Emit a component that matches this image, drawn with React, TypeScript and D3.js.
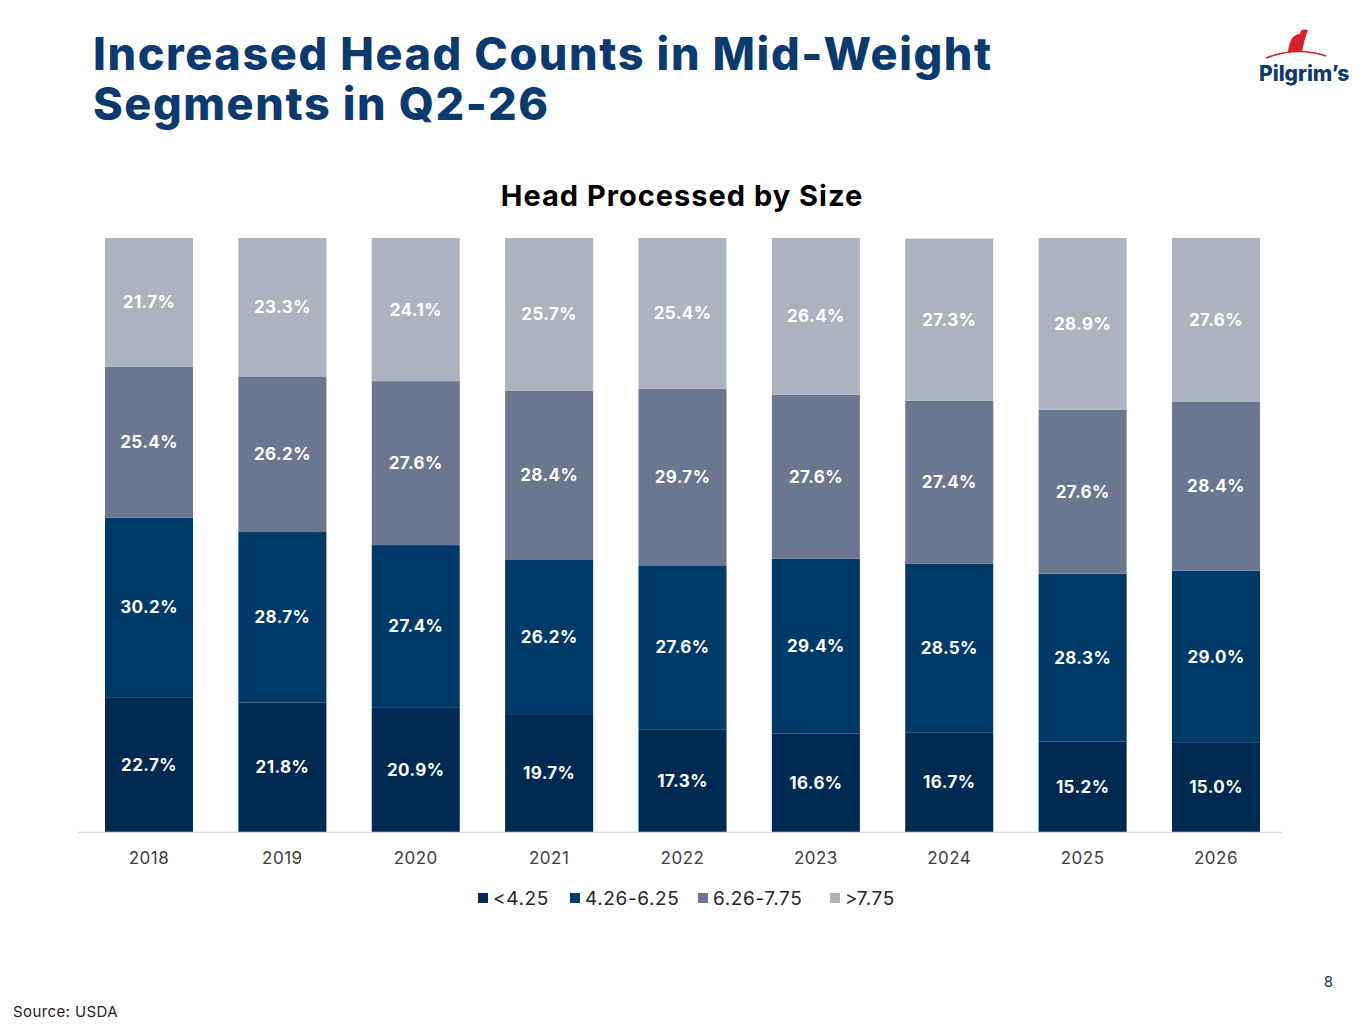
import React, { useRef, useEffect } from 'react'
import * as d3 from 'd3'

const years = ['2018', '2019', '2020', '2021', '2022', '2023', '2024', '2025', '2026']
const seriesNames = ['<4.25', '4.26-6.25', '6.26-7.75', '>7.75']
const under425 = [22.7, 21.8, 20.9, 19.7, 17.3, 16.6, 16.7, 15.2, 15.0]
const mid426 = [30.2, 28.7, 27.4, 26.2, 27.6, 29.4, 28.5, 28.3, 29.0]
const mid626 = [25.4, 26.2, 27.6, 28.4, 29.7, 27.6, 27.4, 27.6, 28.4]
const over775 = [21.7, 23.3, 24.1, 25.7, 25.4, 26.4, 27.3, 28.9, 27.6]
const colors = ['#002a52', '#003a69', '#6b7690', '#adb2bf']

const FONT = 'Inter, "Open Sans", sans-serif'

export default function App() {
  const svgRef = useRef<SVGSVGElement>(null)

  useEffect(() => {
    if (!svgRef.current) return
    const svg = d3.select(svgRef.current)
    svg.selectAll('*').remove()

    svg.append('rect').attr('width', 1365).attr('height', 1024).attr('fill', '#fff')

    // Title
    const title = svg.append('text').attr('font-family', FONT).attr('font-weight', 800)
      .attr('font-size', 45).attr('letter-spacing', 1.6).attr('fill', '#0b3a6e')
    title.append('tspan').attr('x', 93).attr('y', 70).text('Increased Head Counts in Mid-Weight')
    title.append('tspan').attr('x', 93).attr('y', 120).text('Segments in Q2-26')

    // Logo
    const logo = svg.append('g')
    logo.append('path').attr('d', 'M1288,52 Q1290,34 1300,34 Q1300,28 1308,30 Q1304,40 1302,52 Z').attr('fill', '#d6222a')
    logo.append('path').attr('d', 'M1266,58 Q1297,46 1326,56').attr('fill', 'none').attr('stroke', '#d6222a').attr('stroke-width', 1.5)
    logo.append('text').attr('x', 1259).attr('y', 81).attr('font-family', FONT).attr('font-weight', 800)
      .attr('font-size', 21).attr('fill', '#0b3a6e').text("Pilgrim’s")

    svg.append('text').attr('x', 682).attr('y', 206).attr('text-anchor', 'middle')
      .attr('font-family', FONT).attr('font-weight', 700).attr('font-size', 29).attr('letter-spacing', 1)
      .attr('fill', '#000').text('Head Processed by Size')

    const table = years.map((y, i) => ({ year: y, s0: under425[i], s1: mid426[i], s2: mid626[i], s3: over775[i] }))
    const stack = d3.stack<any>().keys(['s0', 's1', 's2', 's3'])(table)

    const x = d3.scaleBand().domain(years).range([105, 1260]).paddingInner(0.34).paddingOuter(0)
    const y = d3.scaleLinear().domain([0, 100]).range([832, 238])

    stack.forEach((layer, li) => {
      const g = svg.append('g')
      g.selectAll('rect').data(layer).join('rect')
        .attr('x', d => x(d.data.year)!)
        .attr('y', d => y(d[1]))
        .attr('width', x.bandwidth())
        .attr('height', d => y(d[0]) - y(d[1]))
        .attr('fill', colors[li])
      g.selectAll('text').data(layer).join('text')
        .attr('x', d => x(d.data.year)! + x.bandwidth() / 2)
        .attr('y', d => (y(d[0]) + y(d[1])) / 2 + 6)
        .attr('text-anchor', 'middle')
        .attr('font-family', FONT).attr('font-weight', 700).attr('font-size', 17).attr('letter-spacing', 0.4)
        .attr('fill', '#fff')
        .text(d => (d[1] - d[0]).toFixed(1) + '%')
    })

    svg.append('line').attr('x1', 78).attr('x2', 1282).attr('y1', 832.5).attr('y2', 832.5)
      .attr('stroke', '#d9d9d9').attr('stroke-width', 1.5)

    svg.append('g').selectAll('text').data(years).join('text')
      .attr('x', d => x(d)! + x.bandwidth() / 2).attr('y', 864).attr('text-anchor', 'middle')
      .attr('font-family', FONT).attr('font-size', 17).attr('letter-spacing', 0.5).attr('fill', '#404040').text(d => d)

    // Legend
    const legendX = [478, 570, 698, 830]
    const lg = svg.append('g')
    seriesNames.forEach((n, i) => {
      lg.append('rect').attr('x', legendX[i]).attr('y', 893).attr('width', 10).attr('height', 10).attr('fill', colors[i])
      lg.append('text').attr('x', legendX[i] + 15).attr('y', 905).attr('font-family', FONT)
        .attr('font-size', 19).attr('letter-spacing', 0.6).attr('fill', '#262626').text(n)
    })

    svg.append('text').attr('x', 1333).attr('y', 987).attr('text-anchor', 'end').attr('font-family', FONT)
      .attr('font-size', 15).attr('fill', '#0b3a6e').text('8')
    svg.append('text').attr('x', 13).attr('y', 1017).attr('font-family', FONT)
      .attr('font-size', 15).attr('letter-spacing', 0.4).attr('fill', '#262626').text('Source: USDA')
  }, [])

  return (
    <svg ref={svgRef} width={1365} height={1024}
      style={{ position: 'absolute', left: 0, top: 0 }} />
  )
}
